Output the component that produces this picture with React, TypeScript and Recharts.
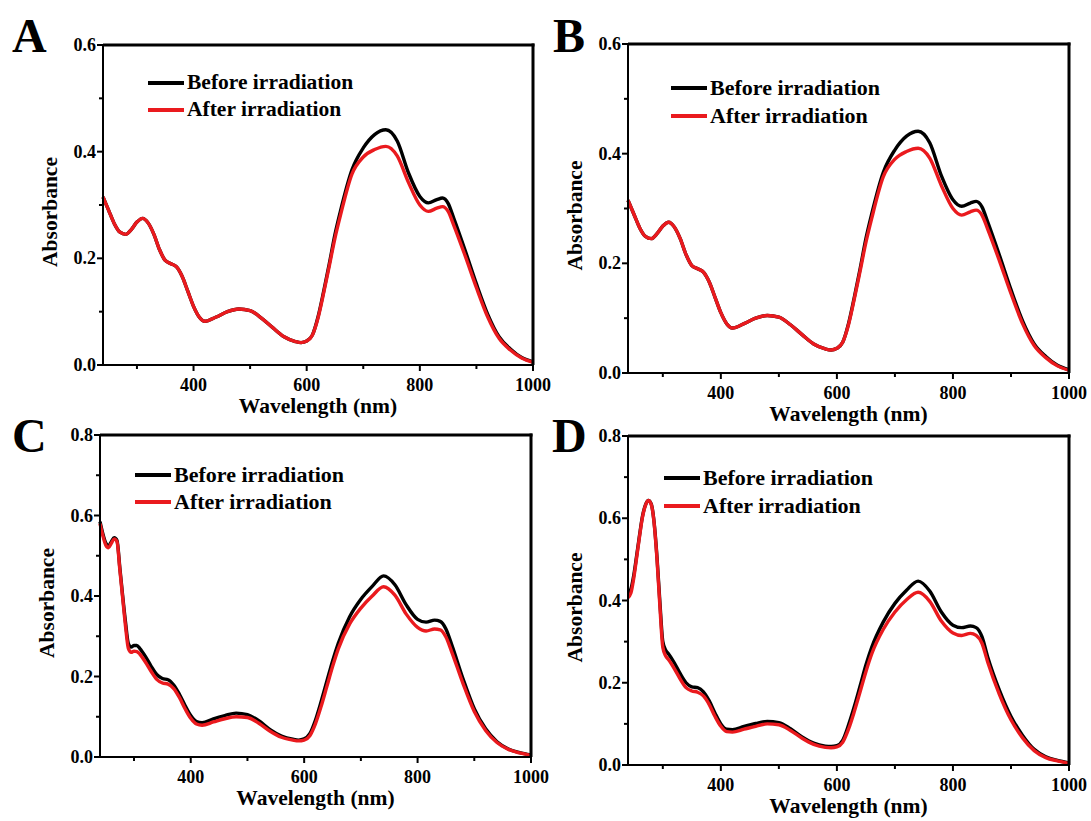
import { LineChart, Line, XAxis, YAxis, Legend } from "recharts";

const FONT = '"Liberation Serif", "Times New Roman", serif';
const BLACK = "#000000";
const RED = "#ea1a1e";

const SERIES = ["Before irradiation", "After irradiation"];
const X_TICKS = [300, 400, 500, 600, 700, 800, 900, 1000];
const Y_TICKS_06 = [0, 0.1, 0.2, 0.3, 0.4, 0.5, 0.6];
const Y_TICKS_08 = [0, 0.1, 0.2, 0.3, 0.4, 0.5, 0.6, 0.7, 0.8];

// wavelength grid (nm) for panels A and B
const WL_AB = [
  240, 250, 260, 270, 280, 290, 300, 310, 320, 330, 340, 350, 360, 370, 380, 390, 400, 410, 420,
  440, 460, 480, 500, 520, 540, 560, 580,
  590, 600, 610, 620, 630, 640, 650, 660,
  680, 700, 720, 740, 760, 780, 800,
  815, 830, 840, 850, 860,
  880, 900, 920, 940, 960, 980, 1000,
];

const BEFORE_A = [
  0.315, 0.29, 0.265, 0.249, 0.245, 0.254, 0.268, 0.275, 0.266, 0.245, 0.216, 0.196, 0.19, 0.184, 0.166, 0.138, 0.11, 0.09, 0.082,
  0.09, 0.1, 0.105, 0.102, 0.088, 0.07, 0.053, 0.044,
  0.042, 0.045, 0.056, 0.09, 0.138, 0.19, 0.245, 0.29,
  0.366, 0.407, 0.432, 0.441, 0.42, 0.36, 0.316,
  0.304, 0.31, 0.313, 0.303, 0.275,
  0.215, 0.152, 0.095, 0.053, 0.03, 0.014, 0.006,
];
const AFTER_A = [
  0.315, 0.29, 0.265, 0.249, 0.245, 0.254, 0.268, 0.275, 0.266, 0.245, 0.216, 0.196, 0.19, 0.184, 0.166, 0.138, 0.11, 0.09, 0.082,
  0.09, 0.1, 0.105, 0.102, 0.088, 0.07, 0.053, 0.044,
  0.042, 0.045, 0.056, 0.088, 0.135, 0.186, 0.238, 0.282,
  0.358, 0.39, 0.404, 0.41, 0.392, 0.342, 0.3,
  0.288, 0.294, 0.297, 0.288, 0.262,
  0.205, 0.145, 0.09, 0.05, 0.028, 0.013, 0.005,
];
const BEFORE_B = [
  0.315, 0.29, 0.265, 0.249, 0.245, 0.254, 0.268, 0.275, 0.266, 0.245, 0.216, 0.196, 0.19, 0.184, 0.166, 0.138, 0.11, 0.09, 0.082,
  0.09, 0.1, 0.105, 0.102, 0.088, 0.07, 0.053, 0.044,
  0.042, 0.045, 0.056, 0.09, 0.138, 0.19, 0.245, 0.29,
  0.366, 0.407, 0.432, 0.441, 0.42, 0.36, 0.316,
  0.304, 0.31, 0.313, 0.303, 0.275,
  0.215, 0.152, 0.095, 0.053, 0.03, 0.014, 0.006,
];
const AFTER_B = [
  0.315, 0.29, 0.265, 0.249, 0.245, 0.254, 0.268, 0.275, 0.266, 0.245, 0.216, 0.196, 0.19, 0.184, 0.166, 0.138, 0.11, 0.09, 0.082,
  0.09, 0.1, 0.105, 0.102, 0.088, 0.07, 0.053, 0.044,
  0.042, 0.045, 0.056, 0.088, 0.135, 0.186, 0.238, 0.282,
  0.358, 0.39, 0.404, 0.41, 0.392, 0.342, 0.3,
  0.288, 0.294, 0.297, 0.288, 0.262,
  0.205, 0.145, 0.09, 0.05, 0.028, 0.013, 0.005,
];

// wavelength grid (nm) for panels C and D
const WL_CD = [
  240, 245, 250, 255, 260, 265, 270, 275, 280, 285, 290, 295, 300, 305, 310,
  320, 330, 340, 350, 360, 370, 380, 390, 400, 410, 420,
  440, 460, 480, 500, 520, 540, 560, 580,
  590, 600, 610, 620, 630, 640, 650, 660,
  680, 700, 720, 740, 760, 780, 800,
  815, 830, 840, 850, 860,
  880, 900, 920, 940, 960, 980, 1000,
];

const BEFORE_C = [
  0.585, 0.555, 0.532, 0.525, 0.535, 0.545, 0.538, 0.47, 0.4, 0.335, 0.282, 0.273, 0.277, 0.277, 0.27,
  0.25, 0.226, 0.205, 0.195, 0.192, 0.179, 0.156, 0.128, 0.103, 0.088, 0.085,
  0.095, 0.103, 0.109, 0.105, 0.09, 0.068, 0.052, 0.044,
  0.042, 0.045, 0.058, 0.092, 0.138, 0.188, 0.238, 0.282,
  0.348, 0.392, 0.424, 0.45, 0.428, 0.378, 0.342,
  0.335, 0.34, 0.337, 0.318, 0.28,
  0.195, 0.12, 0.07, 0.038, 0.02, 0.011, 0.005,
];
const AFTER_C = [
  0.58, 0.55, 0.527, 0.52, 0.531, 0.542, 0.535, 0.465, 0.395, 0.325, 0.27, 0.26, 0.263, 0.262, 0.256,
  0.236, 0.213, 0.193, 0.184, 0.181, 0.17, 0.148, 0.12, 0.096, 0.082, 0.079,
  0.087, 0.095, 0.1, 0.098, 0.084, 0.064, 0.049, 0.042,
  0.04, 0.042, 0.053, 0.083, 0.126, 0.175, 0.224, 0.268,
  0.33, 0.37, 0.4, 0.423, 0.402, 0.355, 0.322,
  0.313, 0.318, 0.316, 0.298, 0.262,
  0.183, 0.113, 0.066, 0.036, 0.019, 0.01, 0.004,
];
const BEFORE_D = [
  0.418, 0.428, 0.462, 0.51, 0.56, 0.605, 0.632, 0.643, 0.635, 0.59, 0.505, 0.395, 0.3, 0.279, 0.27,
  0.248, 0.222, 0.2, 0.19, 0.188, 0.178, 0.156, 0.126, 0.1, 0.087, 0.086,
  0.094, 0.101, 0.106, 0.103, 0.088, 0.068, 0.053, 0.046,
  0.045, 0.047, 0.06, 0.097, 0.142, 0.192, 0.243, 0.286,
  0.348, 0.393, 0.425, 0.447, 0.423, 0.372, 0.34,
  0.334, 0.338, 0.334, 0.312, 0.262,
  0.182, 0.118, 0.072, 0.038, 0.02, 0.011, 0.005,
];
const AFTER_D = [
  0.407, 0.418, 0.455, 0.505, 0.557, 0.603, 0.631, 0.643, 0.634, 0.588, 0.5, 0.385, 0.286, 0.265, 0.256,
  0.234, 0.209, 0.188, 0.18, 0.177, 0.168, 0.147, 0.118, 0.094, 0.081, 0.08,
  0.087, 0.094, 0.1, 0.098, 0.084, 0.065, 0.05, 0.043,
  0.042, 0.044, 0.055, 0.087, 0.13, 0.178, 0.227, 0.27,
  0.33, 0.372, 0.402, 0.42, 0.398, 0.35, 0.321,
  0.315, 0.32, 0.315, 0.296, 0.25,
  0.172, 0.11, 0.066, 0.035, 0.018, 0.01, 0.004,
];

function toRows(wl: number[], before: number[], after: number[]) {
  return wl.map((w, i) => ({ wl: w, before: before[i], after: after[i] }));
}

function XTick(props: any) {
  const { x, y, payload } = props;
  const v = payload.value;
  const major = v % 200 === 0;
  return (
    <g>
      <line x1={x} y1={y} x2={x} y2={y + (major ? 6 : 4)} stroke={BLACK} strokeWidth={2} />
      {major && (
        <text x={x} y={y + 20} textAnchor="middle" dominantBaseline="central"
          fontFamily={FONT} fontWeight="bold" fontSize={18} fill={BLACK}>{v}</text>
      )}
    </g>
  );
}

function YTick(props: any) {
  const { x, y, payload } = props;
  const v = payload.value;
  const major = Math.round(v * 10) % 2 === 0;
  return (
    <g>
      <line x1={x - (major ? 6 : 4)} y1={y} x2={x} y2={y} stroke={BLACK} strokeWidth={2} />
      {major && (
        <text x={x - 7} y={y} textAnchor="end" dominantBaseline="central"
          fontFamily={FONT} fontWeight="bold" fontSize={18} fill={BLACK}>{v.toFixed(1)}</text>
      )}
    </g>
  );
}

const xTitle = (props: any) => {
  const { x, y, width } = props.viewBox;
  return (
    <text x={x + width / 2} y={y + 41} textAnchor="middle" dominantBaseline="central"
      fontFamily={FONT} fontWeight="bold" fontSize={21.5} fill={BLACK}>Wavelength (nm)</text>
  );
};

const yTitle = (props: any) => {
  const { x, y, width, height } = props.viewBox;
  const cx = x + width - 53;
  const cy = y + height / 2 + 7;
  return (
    <text x={cx} y={cy} transform={`rotate(-90 ${cx} ${cy})`} textAnchor="middle" dominantBaseline="central"
      fontFamily={FONT} fontWeight="bold" fontSize={21.5} fill={BLACK}>Absorbance</text>
  );
};

const legendContent = (fontSize: number, rowH: number) => (props: any) => {
  const items = [...(props.payload || [])].sort(
    (a: any, b: any) => SERIES.indexOf(a.value) - SERIES.indexOf(b.value)
  );
  return (
    <div>
      {items.map((e: any) => (
        <div key={e.value} style={{ display: "flex", alignItems: "center", height: rowH }}>
          <div style={{ width: 36, height: 4, background: e.color, marginRight: 3 }} />
          <span style={{ fontFamily: FONT, fontWeight: "bold", fontSize, color: BLACK, lineHeight: 1, whiteSpace: "nowrap" }}>
            {e.value}
          </span>
        </div>
      ))}
    </div>
  );
};

type Plot = { left: number; top: number; right: number; bottom: number };

const PLOT_A: Plot = { left: 103, top: 45, right: 533, bottom: 365 };
const PLOT_B: Plot = { left: 628, top: 44, right: 1069, bottom: 373 };
const PLOT_C: Plot = { left: 100, top: 435, right: 531, bottom: 757 };
const PLOT_D: Plot = { left: 628, top: 436, right: 1069, bottom: 765 };

function Panel({ plot, yMax, yTicks, rows, legend }: {
  plot: Plot; yMax: number; yTicks: number[]; rows: any[];
  legend: { x: number; y: number; size: number; rowH: number };
}) {
  const padL = 80, padT = 12, padR = 24, padB = 60;
  const width = plot.right - plot.left + padL + padR;
  const height = plot.bottom - plot.top + padT + padB;
  const ox = plot.left - padL;
  const oy = plot.top - padT;
  const frame = { stroke: BLACK, strokeWidth: 2 };
  return (
    <div style={{ position: "absolute", left: ox, top: oy }}>
      <LineChart width={width} height={height} data={rows} margin={{ top: padT, right: padR, bottom: 0, left: 0 }}>
        <XAxis dataKey="wl" type="number" domain={[240, 1000]} ticks={X_TICKS} interval={0}
          tickSize={0} tickMargin={0} tickLine={false} tick={<XTick />} axisLine={frame} height={padB} label={xTitle} />
        <YAxis type="number" domain={[0, yMax]} ticks={yTicks} interval={0}
          tickSize={0} tickMargin={0} tickLine={false} tick={<YTick />} axisLine={frame} width={padL} label={yTitle} />
        <Legend layout="vertical" align="center" verticalAlign="middle"
          content={legendContent(legend.size, legend.rowH)}
          wrapperStyle={{ left: legend.x - ox, top: legend.y - legend.rowH / 2 - oy, width: "auto" }} />
        <Line type="monotone" dataKey="before" name={SERIES[0]} stroke={BLACK} strokeWidth={3.4}
          dot={false} isAnimationActive={false} />
        <Line type="monotone" dataKey="after" name={SERIES[1]} stroke={RED} strokeWidth={3.4}
          dot={false} isAnimationActive={false} />
      </LineChart>
    </div>
  );
}

export default function App() {
  return (
    <div style={{ position: "absolute", left: 0, top: 0, width: 1091, height: 821, background: "#fff", overflow: "hidden" }}>
      <Panel plot={PLOT_A} yMax={0.6} yTicks={Y_TICKS_06}
        rows={toRows(WL_AB, BEFORE_A, AFTER_A)} legend={{ x: 148, y: 83, size: 21.5, rowH: 27 }} />
      <Panel plot={PLOT_B} yMax={0.6} yTicks={Y_TICKS_06}
        rows={toRows(WL_AB, BEFORE_B, AFTER_B)} legend={{ x: 671, y: 88, size: 22, rowH: 28 }} />
      <Panel plot={PLOT_C} yMax={0.8} yTicks={Y_TICKS_08}
        rows={toRows(WL_CD, BEFORE_C, AFTER_C)} legend={{ x: 135, y: 475, size: 22, rowH: 27 }} />
      <Panel plot={PLOT_D} yMax={0.8} yTicks={Y_TICKS_08}
        rows={toRows(WL_CD, BEFORE_D, AFTER_D)} legend={{ x: 664, y: 478, size: 22, rowH: 28 }} />
      <svg width={1091} height={821} style={{ position: "absolute", left: 0, top: 0, pointerEvents: "none" }}>
        {/* top and right edges of each plot frame */}
        {[PLOT_A, PLOT_B, PLOT_C, PLOT_D].map((p, i) => (
          <g key={i}>
            <rect x={p.left} y={p.top - 1.5} width={p.right - p.left + 1.5} height={3} fill={BLACK} />
            <rect x={p.right - 1.5} y={p.top - 1.5} width={3} height={p.bottom - p.top + 1.5} fill={BLACK} />
          </g>
        ))}
        {[
          { t: "A", x: 12, y: 52 },
          { t: "B", x: 553, y: 52 },
          { t: "C", x: 12, y: 452 },
          { t: "D", x: 552, y: 452 },
        ].map((l) => (
          <text key={l.t} x={l.x} y={l.y} fontFamily={FONT} fontWeight="bold" fontSize={48} fill={BLACK}>{l.t}</text>
        ))}
      </svg>
    </div>
  );
}
